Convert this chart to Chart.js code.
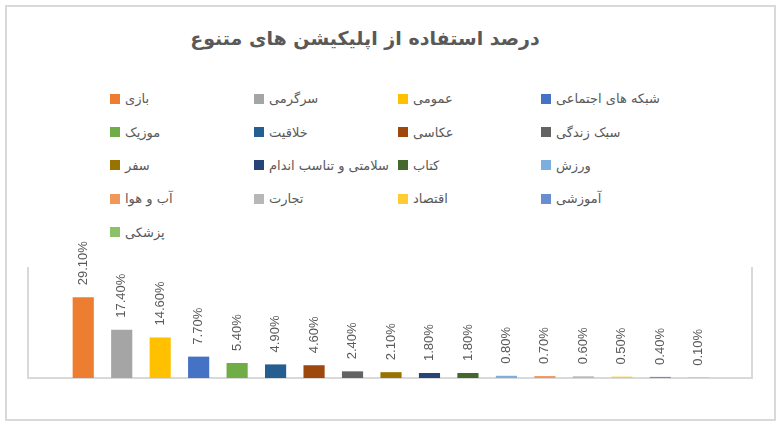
<!DOCTYPE html>
<html>
<head>
<meta charset="utf-8">
<script src="https://cdn.jsdelivr.net/npm/chart.js@4"></script>
<style>
    body { margin: 0; background: #fff; }
    #wrap { position: relative; width: 780px; height: 426px; overflow: hidden; }
    #frame { position: absolute; left: 5px; top: 5px; width: 767px; height: 412px; border: 2px solid #d9d9d9; }
    #chart-title { position: absolute; left: 0; top: 27px; width: 730px; text-align: center;
        font-family: "DejaVu Sans", sans-serif; font-weight: bold; font-size: 19px; color: #595959; }
    #legend { position: absolute; left: 110px; top: 82px; display: grid;
        grid-template-columns: 144px 144px 143px 150px; grid-auto-rows: 33.4px; }
    .item { display: flex; align-items: center; font-family: "DejaVu Sans", sans-serif; font-size: 13px; color: #595959; white-space: nowrap; }
    .box { width: 10px; height: 10px; margin-right: 5px; flex: none; }
    canvas { position: absolute; left: 0; top: 0; }
</style>
</head>
<body>
<div id="wrap">
    <div id="frame"></div>
    <div id="chart-title" dir="rtl">درصد استفاده از اپلیکیشن های متنوع</div>
    <div id="legend"></div>
    <canvas id="usageChart" width="780" height="426"></canvas>
</div>
<script>
const categories = ['بازی', 'سرگرمی', 'عمومی', 'شبکه های اجتماعی', 'موزیک', 'خلاقیت', 'عکاسی', 'سبک زندگی',
    'سفر', 'سلامتی و تناسب اندام', 'کتاب', 'ورزش', 'آب و هوا', 'تجارت', 'اقتصاد', 'آموزشی', 'پزشکی'];
const values = [29.1, 17.4, 14.6, 7.7, 5.4, 4.9, 4.6, 2.4, 2.1, 1.8, 1.8, 0.8, 0.7, 0.6, 0.5, 0.4, 0.1];
const barColors = ['#ED7D31', '#A5A5A5', '#FFC000', '#4472C4', '#70AD47', '#255E91', '#9E480E', '#636363',
    '#997300', '#264478', '#43682B', '#7CAFDD', '#F1975A', '#B7B7B7', '#FFCD33', '#698ED0', '#8CC168'];

// legend grid, built from the same arrays
const legend = document.getElementById('legend');
categories.forEach((name, i) => {
    const item = document.createElement('div');
    item.className = 'item';
    item.innerHTML = `<span class="box" style="background:${barColors[i]}"></span><span dir="rtl">${name}</span>`;
    legend.appendChild(item);
});

// value labels rotated above bars + the light plot frame
const labelsPlugin = {
    id: 'barLabels',
    beforeDatasetsDraw(chart) {
        const { ctx, chartArea } = chart;
        ctx.save();
        ctx.strokeStyle = '#d9d9d9';
        ctx.lineWidth = 2;
        ctx.beginPath();
        ctx.moveTo(chartArea.left - 36, chartArea.top);
        ctx.lineTo(chartArea.left - 36, chartArea.bottom);
        ctx.lineTo(chartArea.right + 34, chartArea.bottom);
        ctx.lineTo(chartArea.right + 34, chartArea.top);
        ctx.stroke();
        ctx.restore();
    },
    afterDatasetsDraw(chart) {
        const { ctx } = chart;
        const meta = chart.getDatasetMeta(0);
        ctx.save();
        ctx.fillStyle = '#595959';
        ctx.font = '13px "Liberation Sans", Arial, sans-serif';
        ctx.textAlign = 'left';
        ctx.textBaseline = 'middle';
        meta.data.forEach((bar, i) => {
            ctx.save();
            ctx.translate(bar.x, bar.y - 12);
            ctx.rotate(-Math.PI / 2);
            ctx.fillText(values[i].toFixed(2) + '%', 0, 0);
            ctx.restore();
        });
        ctx.restore();
    }
};

new Chart(document.getElementById('usageChart'), {
    type: 'bar',
    data: {
        labels: categories,
        datasets: [{
            data: values,
            backgroundColor: barColors,
            borderWidth: 0,
            categoryPercentage: 1,
            barPercentage: 0.55
        }]
    },
    options: {
        responsive: false,
        animation: false,
        layout: { padding: { left: 64, right: 62, top: 267, bottom: 48 } },
        plugins: {
            legend: { display: false },
            title: { display: false },
            tooltip: { enabled: false }
        },
        scales: {
            x: { display: false },
            y: { display: false, min: 0, max: 40 }
        }
    },
    plugins: [labelsPlugin]
});
</script>
</body>
</html>
